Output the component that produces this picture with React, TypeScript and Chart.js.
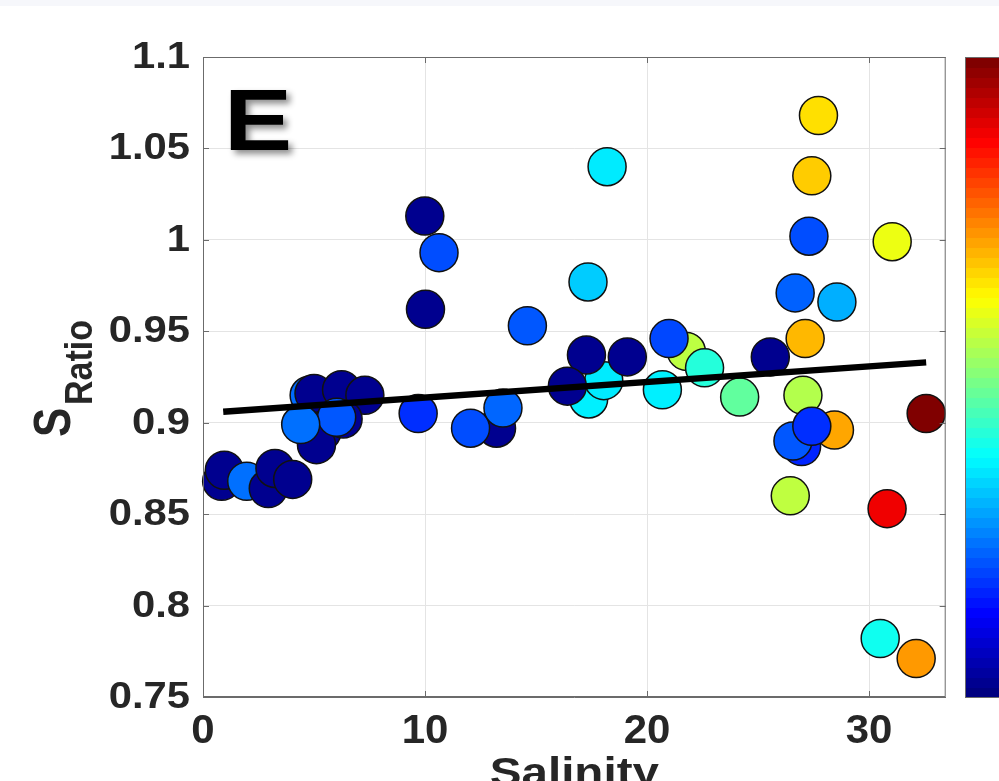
import React, { useEffect, useRef } from "react";
import { Chart, registerables } from "chart.js";
Chart.register(...registerables);

const xTicks = [0, 10, 20, 30];
const xTickLabels = ["0", "10", "20", "30"];
const yTicks = [0.75, 0.8, 0.85, 0.9, 0.95, 1, 1.05, 1.1];
const yTickLabels = ["0.75", "0.8", "0.85", "0.9", "0.95", "1", "1.05", "1.1"];

const salinity = [
  0.84, 0.96, 1.97, 2.94, 3.24, 4.04, 4.78, 5.36, 5.11, 5.0,
  6.24, 7.29, 6.31, 6.02, 4.4, 9.69, 9.99, 10.63, 10.02, 14.61,
  13.22, 12.05, 13.51, 17.37, 18.05, 17.27, 19.11, 16.41, 18.2, 17.34,
  20.69, 21.77, 20.99, 22.59, 24.17, 25.55, 27.12, 27.72, 27.42, 27.29,
  31.04, 26.67, 28.55, 27.02, 28.44, 26.96, 26.57, 27.42, 26.45, 32.57,
  30.81, 30.5, 32.12,
];
const sRatio = [
  0.868, 0.874, 0.868, 0.864, 0.875, 0.869, 0.915, 0.895, 0.888, 0.916,
  0.918, 0.915, 0.902, 0.903, 0.899, 0.905, 1.013, 0.993, 0.962, 0.953,
  0.897, 0.897, 0.908, 0.913, 0.923, 0.937, 0.936, 0.92, 1.04, 0.977,
  0.918, 0.939, 0.946, 0.93, 0.914, 0.936, 0.946, 1.068, 1.035, 1.002,
  0.999, 0.971, 0.966, 0.915, 0.896, 0.887, 0.89, 0.898, 0.86, 0.905,
  0.853, 0.782, 0.771,
];
// colour variable (fraction of the colour-bar range)
const colorValue = [
  0.015, 0.015, 0.235, 0.015, 0.015, 0.015, 0.23, 0.015, 0.015, 0.015,
  0.015, 0.015, 0.015, 0.21, 0.235, 0.17, 0.015, 0.2, 0.015, 0.21,
  0.015, 0.2, 0.225, 0.36, 0.355, 0.015, 0.015, 0.015, 0.355, 0.325,
  0.36, 0.56, 0.195, 0.41, 0.47, 0.015, 0.695, 0.655, 0.675, 0.2,
  0.607, 0.22, 0.297, 0.55, 0.7125, 0.16, 0.21, 0.17, 0.5625, 1.0,
  0.89, 0.39, 0.725,
];

const fitSalinity = [0.91, 32.57];
const fitRatio = [0.906, 0.933];

function clamp(v: number) {
  return Math.max(0, Math.min(1, v));
}
function jet(v: number) {
  const r = clamp(1.5 - Math.abs(4 * v - 3));
  const g = clamp(1.5 - Math.abs(4 * v - 2));
  const b = clamp(1.5 - Math.abs(4 * v - 1));
  return `rgb(${Math.round(r * 255)},${Math.round(g * 255)},${Math.round(b * 255)})`;
}

const TEXT = "#262626";
const AXIS = "#6b6b6b";
const FONT = '"Liberation Sans", Arial, Helvetica, sans-serif';

function stretchText(
  ctx: CanvasRenderingContext2D,
  text: string,
  x: number,
  y: number,
  font: string,
  align: CanvasTextAlign,
  sx: number,
  color = TEXT
) {
  ctx.save();
  ctx.translate(x, y);
  ctx.scale(sx, 1);
  ctx.font = font;
  ctx.textAlign = align;
  ctx.textBaseline = "alphabetic";
  ctx.fillStyle = color;
  ctx.fillText(text, 0, 0);
  ctx.restore();
}

const decorPlugin = {
  id: "decor",
  beforeDraw(chart: any) {
    const ctx = chart.ctx as CanvasRenderingContext2D;
    ctx.save();
    ctx.fillStyle = "#ffffff";
    ctx.fillRect(0, 0, chart.width, chart.height);
    ctx.fillStyle = "#f6f7fb";
    ctx.fillRect(0, 0, chart.width, 6);
    ctx.restore();
  },
  afterDraw(chart: any) {
    const ctx = chart.ctx as CanvasRenderingContext2D;
    const a = chart.chartArea;
    const xs = chart.scales.x;
    const ys = chart.scales.y;
    ctx.save();
    // box
    ctx.strokeStyle = AXIS;
    ctx.lineWidth = 1;
    ctx.strokeRect(a.left + 0.5, a.top + 0.5, a.right - a.left - 1, a.bottom - a.top - 1);
    // inward ticks
    const tl = 6;
    ctx.beginPath();
    xTicks.forEach((v) => {
      const px = Math.round(xs.getPixelForValue(v)) + 0.5;
      ctx.moveTo(px, a.bottom);
      ctx.lineTo(px, a.bottom - tl);
      ctx.moveTo(px, a.top);
      ctx.lineTo(px, a.top + tl);
    });
    yTicks.forEach((v) => {
      const py = Math.round(ys.getPixelForValue(v)) + 0.5;
      ctx.moveTo(a.left, py);
      ctx.lineTo(a.left + tl, py);
      ctx.moveTo(a.right, py);
      ctx.lineTo(a.right - tl, py);
    });
    ctx.stroke();

    // tick labels
    yTicks.forEach((v, i) => {
      const py = ys.getPixelForValue(v);
      stretchText(ctx, yTickLabels[i], 190, py + 11, `bold 36px ${FONT}`, "right", 1.16);
    });
    xTicks.forEach((v, i) => {
      const px = xs.getPixelForValue(v);
      stretchText(ctx, xTickLabels[i], px, 743, `bold 40px ${FONT}`, "center", 1.05);
    });

    // x title
    stretchText(ctx, "Salinity", (a.left + a.right) / 2, 786, `bold 41px ${FONT}`, "center", 1.16);

    // y title: S with subscript Ratio, rotated
    ctx.save();
    ctx.translate(70, 437);
    ctx.rotate(-Math.PI / 2);
    ctx.scale(1, 1.16);
    ctx.font = `bold 44px ${FONT}`;
    ctx.fillStyle = TEXT;
    ctx.textAlign = "left";
    ctx.textBaseline = "alphabetic";
    ctx.fillText("S", 0, 0);
    ctx.restore();
    ctx.save();
    ctx.translate(92, 405);
    ctx.rotate(-Math.PI / 2);
    ctx.scale(1, 1.16);
    ctx.font = `bold 34px ${FONT}`;
    ctx.fillStyle = TEXT;
    ctx.textAlign = "left";
    ctx.textBaseline = "alphabetic";
    ctx.fillText("Ratio", 0, 0);
    ctx.restore();

    // panel letter
    ctx.save();
    ctx.shadowColor = "rgba(0,0,0,0.45)";
    ctx.shadowBlur = 6;
    ctx.shadowOffsetX = 4;
    ctx.shadowOffsetY = 4;
    ctx.translate(224, 150);
    ctx.scale(1.16, 1);
    ctx.font = `bold 88px ${FONT}`;
    ctx.fillStyle = "#000";
    ctx.textAlign = "left";
    ctx.textBaseline = "alphabetic";
    ctx.fillText("E", 0, 0);
    ctx.restore();

    // colour bar
    const cx0 = 965;
    const cx1 = 1012;
    const cy0 = a.top;
    const cy1 = a.bottom;
    const n = 64;
    const h = (cy1 - cy0) / n;
    for (let i = 0; i < n; i++) {
      ctx.fillStyle = jet(i / (n - 1));
      const yb = cy1 - (i + 1) * h;
      ctx.fillRect(cx0, Math.floor(yb), cx1 - cx0, Math.ceil(h) + 1);
    }
    ctx.strokeStyle = AXIS;
    ctx.lineWidth = 1;
    ctx.strokeRect(cx0 + 0.5, cy0 + 0.5, cx1 - cx0, cy1 - cy0);
    ctx.restore();
  },
};

export default function App() {
  const ref = useRef<HTMLCanvasElement | null>(null);
  useEffect(() => {
    if (!ref.current) return;
    const chart = new Chart(ref.current, {
      type: "scatter",
      data: {
        datasets: [
          {
            type: "line",
            data: fitSalinity.map((x, i) => ({ x, y: fitRatio[i] })),
            borderColor: "#000000",
            borderWidth: 6.5,
            pointRadius: 0,
            fill: false,
            order: 0,
            clip: false,
          } as any,
          {
            type: "scatter",
            data: salinity.map((x, i) => ({ x, y: sRatio[i] })),
            backgroundColor: colorValue.map(jet),
            borderColor: "#111111",
            borderWidth: 1.5,
            pointRadius: 19,
            pointHoverRadius: 19,
            order: 1,
            clip: false,
          } as any,
        ],
      },
      options: {
        animation: false,
        responsive: false,
        events: [],
        layout: { padding: { left: 203, right: 999 - 945.7, top: 57, bottom: 781 - 697 } },
        plugins: { legend: { display: false }, tooltip: { enabled: false } },
        scales: {
          x: {
            type: "linear",
            min: 0,
            max: 33.45,
            afterBuildTicks: (s: any) => {
              s.ticks = xTicks.map((v) => ({ value: v }));
            },
            afterFit: (s: any) => {
              s.height = 0;
            },
            ticks: { display: false },
            grid: { color: "#e4e4e4", lineWidth: 1, drawTicks: false },
            border: { display: true, color: AXIS, width: 1 },
          },
          y: {
            type: "linear",
            min: 0.75,
            max: 1.1,
            afterBuildTicks: (s: any) => {
              s.ticks = yTicks.map((v) => ({ value: v }));
            },
            afterFit: (s: any) => {
              s.width = 0;
            },
            ticks: { display: false },
            grid: { color: "#e4e4e4", lineWidth: 1, drawTicks: false },
            border: { display: true, color: AXIS, width: 1 },
          },
        },
      } as any,
      plugins: [decorPlugin],
    });
    return () => chart.destroy();
  }, []);
  return (
    <div style={{ position: "fixed", left: 0, top: 0, width: 999, height: 781, background: "#fff" }}>
      <canvas ref={ref} width={999} height={781} style={{ display: "block", width: 999, height: 781 }} />
    </div>
  );
}
